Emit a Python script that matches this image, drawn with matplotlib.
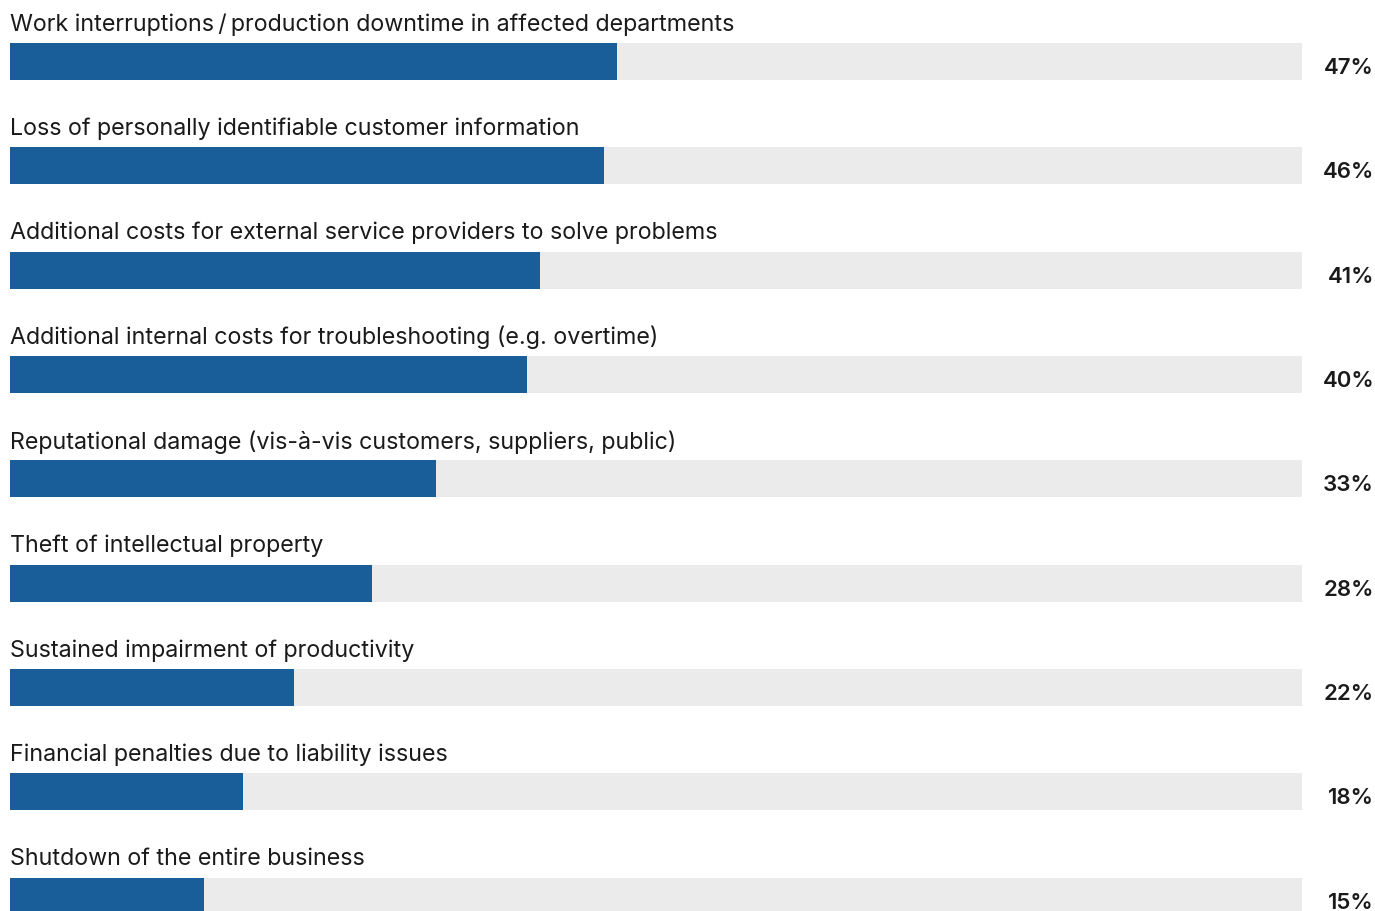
import matplotlib.pyplot as plt

labels = [
    'Work interruptions\u2009/\u2009production downtime in affected departments',
    'Loss of personally identifiable customer information',
    'Additional costs for external service providers to solve problems',
    'Additional internal costs for troubleshooting (e.g. overtime)',
    'Reputational damage (vis-à-vis customers, suppliers, public)',
    'Theft of intellectual property',
    'Sustained impairment of productivity',
    'Financial penalties due to liability issues',
    'Shutdown of the entire business',
]
values = [47, 46, 41, 40, 33, 28, 22, 18, 15]

blue = '#1a5e99'
track = '#ebebeb'
ink = '#1a1a1a'

plt.rcParams['font.family'] = ['Inter', 'DejaVu Sans']

W, H = 1375, 911
fig = plt.figure(figsize=(W / 100, H / 100), dpi=100)
ax = fig.add_axes([10 / W, 0, (1302 - 10) / W, 1])

step = 104.33
rows = list(range(len(values)))
bar_h = 37 / step

ax.barh(rows, [100] * len(values), height=bar_h, color=track, left=0)
ax.barh(rows, values, height=bar_h, color=blue, left=0)

# value labels sit right of the track, right edge at x~1374 px
xv = (1374 - 10) / (1302 - 10) * 100
for i, (lab, v) in enumerate(zip(labels, values)):
    ax.text(0, i - 37 / step, lab, ha='left', va='center',
            fontsize=16.75, color=ink)
    ax.text(xv, i + 6.5 / step, f'{v}%', ha='right', va='center',
            fontsize=16, fontweight='semibold', color=ink, clip_on=False)

ax.set_xlim(0, 100)
ax.set_ylim((911 - 61.5) / step, -61.5 / step)
ax.axis('off')

fig.savefig('out.png', dpi=100)
